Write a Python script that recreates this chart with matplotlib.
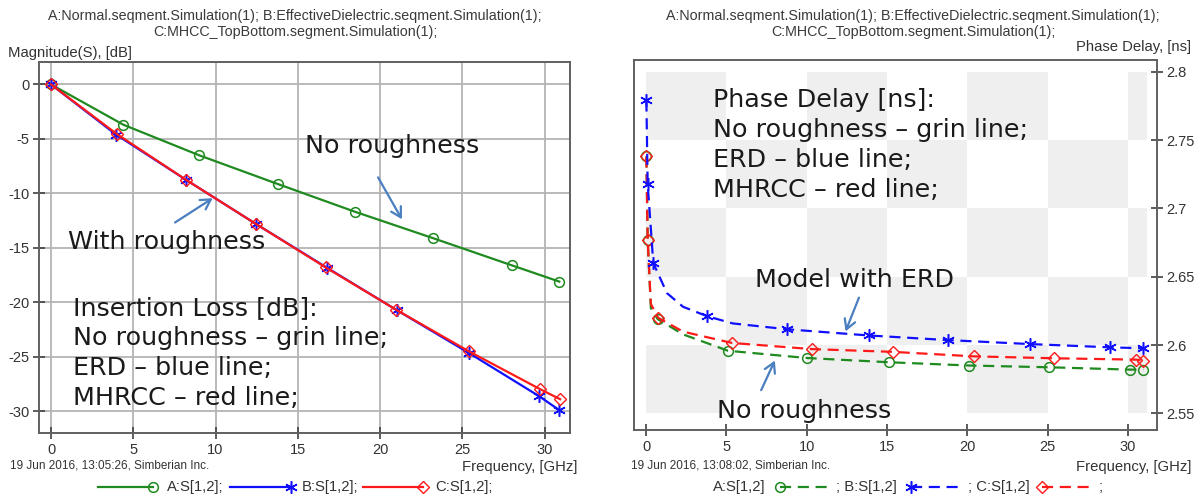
import matplotlib
matplotlib.use('Agg')
import matplotlib.pyplot as plt
import numpy as np
from matplotlib.lines import Line2D
from matplotlib.patches import FancyArrowPatch
from matplotlib.colors import ListedColormap

W, H = 1200, 496

# ---------------- Left chart data: Magnitude(S) [dB] vs frequency [GHz]
freq_A = [0, 4.4, 9.0, 13.8, 18.5, 23.2, 28.0, 30.9]
loss_A = [0, -3.7, -6.5, -9.15, -11.7, -14.1, -16.6, -18.1]
freq_B = [0, 3.95, 8.2, 12.45, 16.8, 21.05, 25.4, 29.65, 30.9]
loss_B = [0, -4.6, -8.75, -12.8, -16.85, -20.75, -24.65, -28.6, -29.9]
freq_C = [0, 4.0, 8.2, 12.45, 16.7, 21.0, 25.4, 29.7, 30.95]
loss_C = [0, -4.55, -8.75, -12.8, -16.8, -20.7, -24.5, -27.95, -28.9]
left_xticks = [0, 5, 10, 15, 20, 25, 30]
left_yticks = [0, -5, -10, -15, -20, -25, -30]

# ---------------- Right chart data: Phase delay [ns] vs frequency [GHz]
pd_freq_A = [0.02, 0.1, 0.3, 0.72, 2.3, 5.1, 10.0, 15.1, 20.1, 25.1, 30.1, 30.95]
pd_A = [2.738, 2.677, 2.627, 2.619, 2.6078, 2.5958, 2.5905, 2.5874, 2.585, 2.5837, 2.582, 2.582]
pd_mark_A = [0, 1, 3, 5, 6, 7, 8, 9, 10, 11]
pd_freq_B = [0.02, 0.1, 0.45, 1.3, 2.3, 3.82, 5.4, 8.8, 13.85, 18.8, 23.9, 28.9, 30.95]
pd_B = [2.779, 2.718, 2.660, 2.638, 2.628, 2.621, 2.6158, 2.6115, 2.607, 2.6036, 2.6007, 2.5983, 2.5976]
pd_mark_B = [0, 1, 2, 5, 7, 8, 9, 10, 11, 12]
pd_freq_C = [0.02, 0.1, 0.3, 0.75, 2.3, 5.35, 10.35, 15.35, 20.4, 25.4, 30.5, 30.95]
pd_C = [2.738, 2.677, 2.63, 2.620, 2.6098, 2.6015, 2.597, 2.595, 2.5917, 2.5903, 2.5893, 2.5886]
pd_mark_C = [0, 1, 3, 5, 6, 7, 8, 9, 10, 11]
right_xticks = [0, 5, 10, 15, 20, 25, 30]
right_yticks = [2.55, 2.6, 2.65, 2.7, 2.75, 2.8]
checker_x = [0, 5, 10, 15, 20, 25, 30, 31.2]
checker_y = [2.55, 2.6, 2.65, 2.7, 2.75, 2.8]

GREEN = '#1f8a1f'
BLUE = '#1010ff'
RED = '#ff1a1a'
ARROW = '#4a7fc0'
TXT = '#1a1a1a'
LBL = '#333333'
SANS = 'Liberation Sans'
ANN = 'DejaVu Sans'
ANN_SIZE = 18.3
LBL_SIZE = 10.7
TICK_SIZE = 10.5

fig = plt.figure(figsize=(12, 4.96), dpi=100)


def fx(x):
    return x / W


def fy(y):
    return 1 - y / H


def axes_px(l, t, r, b):
    return fig.add_axes([fx(l), fy(b), (r - l) / W, (b - t) / H])


STAR = (6, 2, 0)

# ---------------- Left chart
ax1 = axes_px(39, 62, 570, 433)
ax1.plot(freq_A, loss_A, color=GREEN, lw=1.6, marker='o', ms=7, mfc='none', mec=GREEN, mew=1.1, zorder=3)
ax1.plot(freq_B, loss_B, color=BLUE, lw=1.6, marker=STAR, ms=9, mec=BLUE, mew=1.1, zorder=3)
ax1.plot(freq_C, loss_C, color=RED, lw=1.6, marker='D', ms=6, mfc='none', mec=RED, mew=1.0, zorder=4)
ax1.set_xlim(-0.73, 31.55)
ax1.set_ylim(-32.0, 2.06)
ax1.set_xticks(left_xticks)
ax1.set_yticks(left_yticks)
ax1.set_xticklabels([str(v) for v in left_xticks])
ax1.set_yticklabels([str(v) for v in left_yticks])
ax1.grid(True, color='#b4b4b4', lw=1.3)
ax1.set_axisbelow(True)

# ---------------- Right chart
ax2 = axes_px(634, 60, 1157, 430)
C = np.zeros((len(checker_y) - 1, len(checker_x) - 1))
for k in range(C.shape[0]):
    for i in range(C.shape[1]):
        C[k, i] = 1 if (i + k) % 2 == 0 else 0
ax2.pcolormesh(checker_x, checker_y, C, cmap=ListedColormap(['white', '#efefef']), zorder=0)
ax2.plot(pd_freq_A, pd_A, color=GREEN, lw=1.6, ls=(0, (5, 3)), marker='o', ms=7, mfc='none',
         mec=GREEN, mew=1.1, markevery=pd_mark_A, zorder=3)
ax2.plot(pd_freq_C, pd_C, color=RED, lw=1.6, ls=(0, (5, 3)), marker='D', ms=6, mfc='none',
         mec=RED, mew=1.0, markevery=pd_mark_C, zorder=4)
ax2.plot(pd_freq_B, pd_B, color=BLUE, lw=1.6, ls=(0, (5, 3)), marker=STAR, ms=9,
         mec=BLUE, mew=1.1, markevery=pd_mark_B, zorder=5)
ax2.set_xlim(-0.75, 31.8)
ax2.set_ylim(2.5378, 2.8086)
ax2.set_xticks(right_xticks)
ax2.set_xticklabels([str(v) for v in right_xticks])
ax2.yaxis.tick_right()
ax2.set_yticks(right_yticks)
ax2.set_yticklabels(['%g' % v for v in right_yticks])

for ax in (ax1, ax2):
    for s in ax.spines.values():
        s.set_color('#606060')
        s.set_linewidth(1.4)
    ax.tick_params(direction='inout', length=8, width=1.2, color='#404040',
                   labelsize=TICK_SIZE, labelcolor=LBL, pad=3)
    for lab in ax.get_xticklabels() + ax.get_yticklabels():
        lab.set_family(SANS)

# ---------------- Header / footer texts
title = ('A:Normal.seqment.Simulation(1); B:EffectiveDielectric.seqment.Simulation(1);\n'
         'C:MHCC_TopBottom.segment.Simulation(1);')
for cx in (295, 913):
    fig.text(fx(cx), fy(24), title, ha='center', va='center', family=SANS, fontsize=10.3,
             color='#3a3a3a', linespacing=1.1)
fig.text(fx(8), fy(53), 'Magnitude(S), [dB]', ha='left', va='center', family=SANS, fontsize=LBL_SIZE, color=LBL)
fig.text(fx(1191), fy(47), 'Phase Delay, [ns]', ha='right', va='center', family=SANS, fontsize=LBL_SIZE, color=LBL)
fig.text(fx(10), fy(466), '19 Jun 2016, 13:05:26, Simberian Inc.', ha='left', va='center', family=SANS,
         fontsize=8.5, color=LBL)
fig.text(fx(631), fy(466), '19 Jun 2016, 13:08:02, Simberian Inc.', ha='left', va='center', family=SANS,
         fontsize=8.5, color=LBL)
fig.text(fx(577), fy(467), 'Frequency, [GHz]', ha='right', va='center', family=SANS, fontsize=LBL_SIZE, color=LBL)
fig.text(fx(1191), fy(467), 'Frequency, [GHz]', ha='right', va='center', family=SANS, fontsize=LBL_SIZE, color=LBL)

# ---------------- Legends (drawn by hand in figure space)
LY = 487


def leg_line(x0, x1, color, ls, marker, mx, **mk):
    fig.add_artist(Line2D([fx(x0), fx(x1)], [fy(LY), fy(LY)], color=color, lw=1.6, ls=ls,
                          transform=fig.transFigure))
    fig.add_artist(Line2D([fx(mx)], [fy(LY)], color=color, marker=marker, ls='none',
                          transform=fig.transFigure, **mk))


def leg_text(x, s):
    fig.text(fx(x), fy(LY), s, ha='left', va='center', family=SANS, fontsize=LBL_SIZE, color=LBL)


leg_line(98, 153, GREEN, '-', 'o', 153, ms=7, mfc='none', mec=GREEN, mew=1.1)
leg_text(167, 'A:S[1,2];')
leg_line(230, 291, BLUE, '-', STAR, 291, ms=9, mec=BLUE, mew=1.1)
leg_text(302, 'B:S[1,2];')
leg_line(363, 423, RED, '-', 'D', 423, ms=6, mfc='none', mec=RED, mew=1.0)
leg_text(435, 'C:S[1,2];')

leg_text(713, 'A:S[1,2]')
leg_line(780, 831, GREEN, (0, (5, 3)), 'o', 780, ms=7, mfc='none', mec=GREEN, mew=1.1)
leg_text(836, '; B:S[1,2]')
leg_line(911, 962, BLUE, (0, (5, 3)), STAR, 911, ms=9, mec=BLUE, mew=1.1)
leg_text(968, '; C:S[1,2]')
leg_line(1042, 1093, RED, (0, (5, 3)), 'D', 1042, ms=6, mfc='none', mec=RED, mew=1.0)
leg_text(1099, ';')

# ---------------- Annotations
def ann_text(x, y, s):
    fig.text(fx(x), fy(y), s, ha='left', va='baseline', family=ANN, fontsize=ANN_SIZE, color=TXT)


def arrow(x0, y0, x1, y1):
    fig.add_artist(FancyArrowPatch((fx(x0), fy(y0)), (fx(x1), fy(y1)), transform=fig.transFigure,
                                   arrowstyle='->,head_length=7,head_width=4', color=ARROW, lw=1.6,
                                   mutation_scale=1))


ann_text(305, 153, 'No roughness')
arrow(376.7, 175, 403.3, 221.7)
ann_text(68, 249, 'With roughness')
arrow(172.7, 224, 215, 196.7)
il_lines = ['Insertion Loss [dB]:', 'No roughness \u2013 grin line;', 'ERD \u2013 blue line;',
            'MHRCC \u2013 red line;']
for n, s in enumerate(il_lines):
    ann_text(73, 315 + 30 * n, s)

pd_lines = ['Phase Delay [ns]:', 'No roughness \u2013 grin line;', 'ERD \u2013 blue line;',
            'MHRCC \u2013 red line;']
for n, s in enumerate(pd_lines):
    ann_text(713, 107 + 30 * n, s)
ann_text(755, 287, 'Model with ERD')
arrow(860, 295, 844.5, 334)
ann_text(717, 418, 'No roughness')
arrow(760, 392.7, 776, 358)

fig.savefig('out.png', dpi=100)
